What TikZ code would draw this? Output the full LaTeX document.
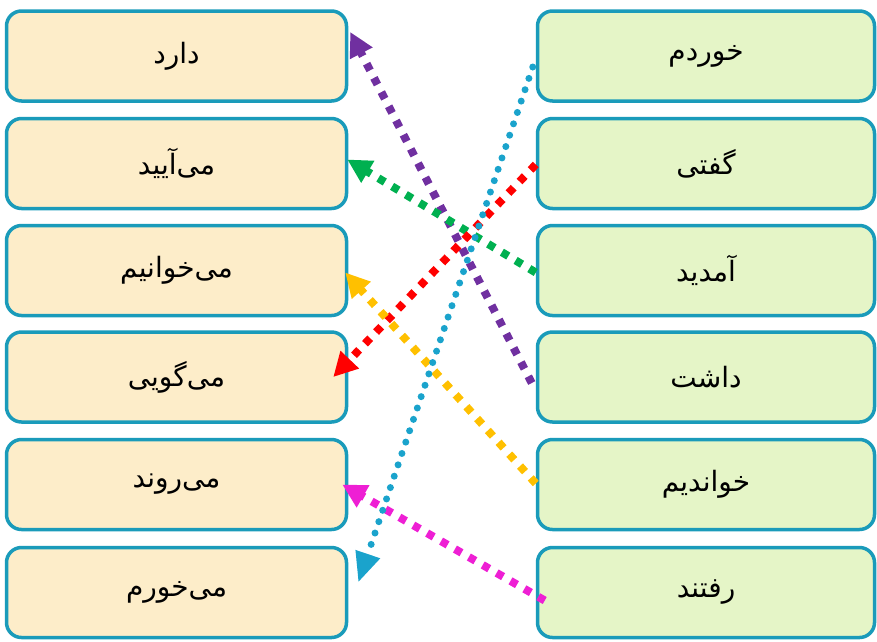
\documentclass[tikz,border=0pt]{standalone}
\usepackage{fontspec}
\newfontfamily\arabicfont[Script=Arabic]{DejaVu Sans}
\TeXXeTstate=1
\usetikzlibrary{arrows.meta}
\definecolor{edgec}{HTML}{1A9BBA}
\definecolor{lfill}{HTML}{FDEDC9}
\definecolor{rfill}{HTML}{E5F5C7}
\definecolor{cpurple}{HTML}{7030A0}
\definecolor{cgreen}{HTML}{00B050}
\definecolor{cred}{HTML}{FF0000}
\definecolor{cyellow}{HTML}{FFC000}
\definecolor{cmagenta}{HTML}{EE1FD4}
\definecolor{ccyan}{HTML}{1AA3CC}
\newcommand\prs[1]{{\arabicfont\beginR #1\endR}}
\tikzset{
  wbox/.style={draw=edgec, line width=3.5pt, rounded corners=15pt,
    minimum width=340pt, minimum height=90pt, inner sep=0pt,
    font=\fontsize{28}{32}\selectfont, text=black},
  lbox/.style={wbox, fill=lfill},
  rbox/.style={wbox, fill=rfill, minimum width=337pt},
  sqdot/.style={line width=8pt, dash pattern=on 7.5pt off 8.5pt, line cap=butt,
    -{Triangle[length=24pt,width=24pt]}},
  rddot/.style={line width=7pt, dash pattern=on 0pt off 12pt, line cap=round,
    -{Triangle[length=30pt,width=24pt]}}
}
\begin{document}
\begin{tikzpicture}[x=1pt,y=-1pt]
\useasboundingbox (0,0) rectangle (877,641);
% left column
\node[lbox] (L1) at (176.5,56)    {\prs{دارد}};
\node[lbox] (L2) at (176.5,163.5) {\prs{می^^^^200cآیید}};
\node[lbox] (L3) at (176.5,270.5) {\prs{می^^^^200cخوانیم}};
\node[lbox] (L4) at (176.5,377)   {\prs{می^^^^200cگویی}};
\node[lbox] (L5) at (176.5,484.5) {\prs{می^^^^200cروند}};
\node[lbox] (L6) at (176.5,592.5) {\prs{می^^^^200cخورم}};
% right column
\node[rbox] (R1) at (706,56)    {\prs{خوردم}};
\node[rbox] (R2) at (706,163.5) {\prs{گفتی}};
\node[rbox] (R3) at (706,270.5) {\prs{آمدید}};
\node[rbox] (R4) at (706,377)   {\prs{داشت}};
\node[rbox] (R5) at (706,484.5) {\prs{خواندیم}};
\node[rbox] (R6) at (706,592.5) {\prs{رفتند}};
% connectors
\draw[sqdot, cpurple]  ([xshift=-4pt,yshift=-6pt]R4.west) -- ([xshift=2pt,yshift=24pt]L1.east);
\draw[sqdot, cgreen]   ([yshift=-2pt]R3.west) -- ([xshift=-1pt,yshift=4pt]L2.east);
\draw[sqdot, cred]     ([yshift=-1pt]R2.west) -- ([xshift=-15pt]L4.east);
\draw[sqdot, cyellow]  ([yshift=1pt]R5.west) -- ([xshift=-3pt,yshift=-2pt]L3.east);
\draw[sqdot, cmagenta] ([xshift=9pt,yshift=-8pt]R6.west) -- ([xshift=-6pt]L5.east);
\draw[rddot, ccyan]    ([xshift=-3pt,yshift=-11pt]R1.west) -- ([xshift=10pt,yshift=10pt]L6.east);
\end{tikzpicture}
\end{document}
